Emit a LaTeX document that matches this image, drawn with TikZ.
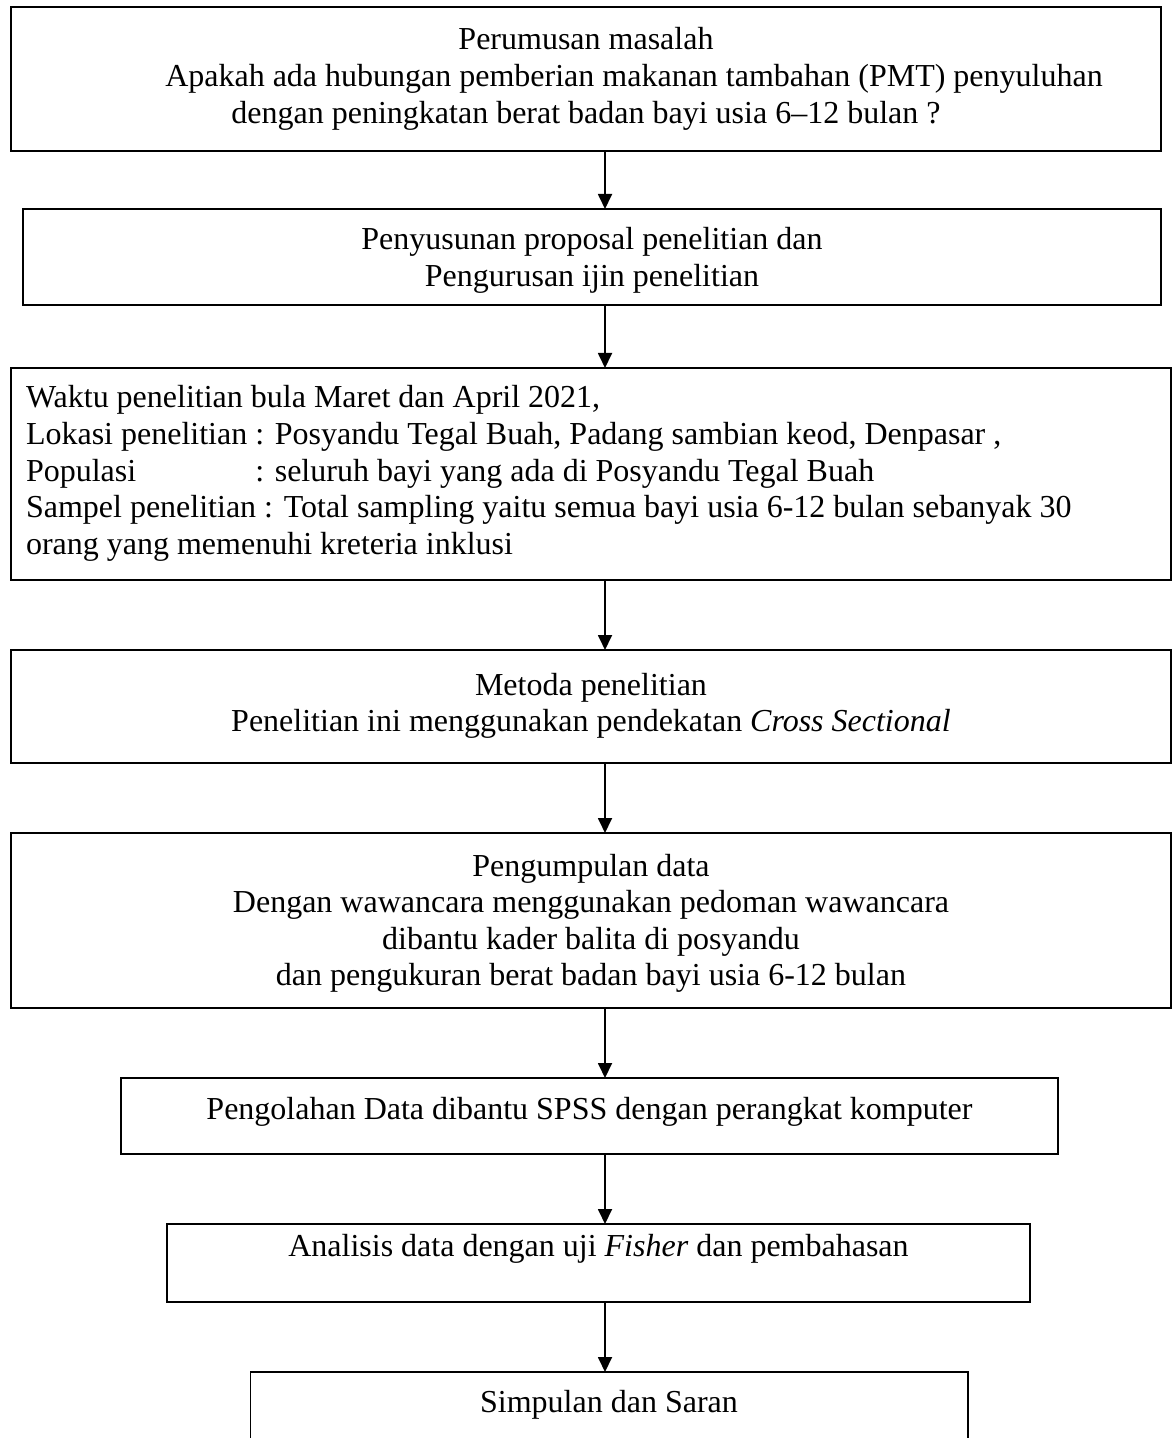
\documentclass[tikz,border=0pt]{standalone}
\usepackage{fontspec}
\setmainfont{Liberation Serif}
\usetikzlibrary{arrows.meta}
\begin{document}
\begin{tikzpicture}[x=0.5pt,y=-0.5pt,
  box/.style={draw=black, line width=0.9pt, rectangle, anchor=north west, inner sep=0pt, outer sep=0pt},
  txt/.style={inner sep=0pt, outer sep=0pt, anchor=base, font=\fontsize{16}{18.3}\selectfont},
  arr/.style={draw=black, line width=0.9pt, -{Triangle[length=7.5pt,width=7pt]}}]
\useasboundingbox (0,0) rectangle (1174,1438);

% boxes
\node[box, minimum width=575pt, minimum height=72pt] (b1) at (11,7) {};
\node[box, minimum width=569pt, minimum height=48pt] (b2) at (23,209) {};
\node[box, minimum width=580pt, minimum height=106pt] (b3) at (11,368) {};
\node[box, minimum width=580pt, minimum height=56.5pt] (b4) at (11,650) {};
\node[box, minimum width=580pt, minimum height=87.5pt] (b5) at (11,833) {};
\node[box, minimum width=468.5pt, minimum height=38pt] (b6) at (121,1078) {};
\node[box, minimum width=431.5pt, minimum height=39pt] (b7) at (167,1224) {};
\node[box, minimum width=358.75pt, minimum height=54pt] (b8) at (250.5,1372) {};

% texts
\node[txt] (t1) at (586,50) {\begin{tabular}[t]{@{}c@{}}Perumusan masalah\\
\hspace*{48pt}Apakah ada hubungan pemberian makanan tambahan (PMT) penyuluhan\\
dengan peningkatan berat badan bayi usia 6–12 bulan ?\end{tabular}};
\node[txt] (t2) at (592,250) {\begin{tabular}[t]{@{}c@{}}Penyusunan proposal penelitian dan\\
Pengurusan ijin penelitian\end{tabular}};
\node[txt, anchor=base west] (t3) at (26,408) {\begin{tabular}[t]{@{}l@{}}Waktu penelitian bula Maret dan April 2021,\\
Lokasi penelitian : Posyandu Tegal Buah, Padang sambian keod, Denpasar ,\\
\rlap{Populasi}\phantom{Lokasi penelitian} : seluruh bayi yang ada di Posyandu Tegal Buah\\
Sampel penelitian : Total sampling yaitu semua bayi usia 6-12 bulan sebanyak 30\\
orang yang memenuhi kreteria inklusi\end{tabular}};
\node[txt] (t4) at (591,695) {\begin{tabular}[t]{@{}c@{}}Metoda penelitian\\
Penelitian ini menggunakan pendekatan \textit{Cross Sectional}\end{tabular}};
\node[txt] (t5) at (591,876) {\begin{tabular}[t]{@{}c@{}}Pengumpulan data\\
Dengan wawancara menggunakan pedoman wawancara\\
dibantu kader balita di posyandu\\
dan pengukuran berat badan bayi usia 6-12 bulan\end{tabular}};
\node[txt] (t6) at (589.5,1119) {Pengolahan Data dibantu SPSS dengan perangkat komputer};
\node[txt] (t7) at (598.5,1256) {Analisis data dengan uji \textit{Fisher} dan pembahasan};
\node[txt] (t8) at (609,1412) {Simpulan dan Saran};

% connectors
\coordinate (ax) at (605,0);
\draw[arr] (b1.south -| ax) -- (b2.north -| ax);
\draw[arr] (b2.south -| ax) -- (b3.north -| ax);
\draw[arr] (b3.south -| ax) -- (b4.north -| ax);
\draw[arr] (b4.south -| ax) -- (b5.north -| ax);
\draw[arr] (b5.south -| ax) -- (b6.north -| ax);
\draw[arr] (b6.south -| ax) -- (b7.north -| ax);
\draw[arr] (b7.south -| ax) -- (b8.north -| ax);
\end{tikzpicture}
\end{document}
